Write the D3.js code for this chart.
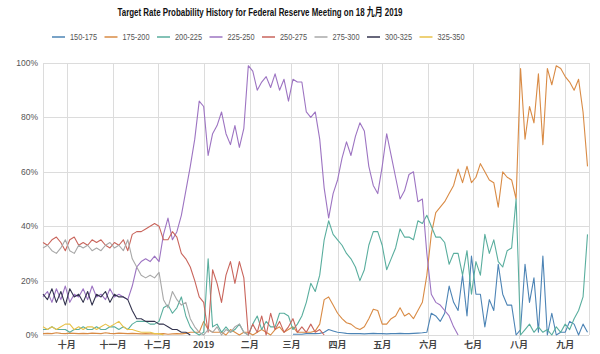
<!DOCTYPE html>
<html>
<head>
<meta charset="utf-8">
<script src="https://cdn.jsdelivr.net/npm/d3@7"></script>
<style>
  body { margin: 0; background: #fff; }
  svg { display: block; font-family: "Liberation Sans", Arial, "Noto Sans CJK SC", sans-serif; }
</style>
</head>
<body>
<div class="Chart"></div>
<script>
// sampled every 3 days from 2018-09-15
const startDate = new Date(2018, 8, 15);
const dates = d3.range(0, 367, 3).map(d => d3.timeDay.offset(startDate, d));

const seriesNames = ["150-175", "175-200", "200-225", "225-250", "250-275", "275-300", "300-325", "325-350"];
const monthLabels = ["十月", "十一月", "十二月", "2019", "二月", "三月", "四月", "五月", "六月", "七月", "八月", "九月"];
const yTicks = [0, 20, 40, 60, 80, 100];

const N = null;
const r150 = [
  N,N,N,N,N,N,N,N,N,N, N,N,N,N,N,N,N,N,N,N, N,N,N,N,N,N,N,N,N,N,
  N,N,N,N,N,N,N,N,N,N, N,N,N,N,N,N,N,N,N,N, N,N,N,N,N,N,0.3,0.3,0.3,0.5,
  0.5,0.5,0.6,1,2,1.5,1,0.8,0.6,0.5, 0.5,0.5,0.4,0.5,0.6,0.5,0.5,0.4,0.5,0.5,
  0.6,0.5,0.5,0.6,0.7,0.8,1,8,7,5, 8,18,12,9,22,7,29,15,15,3,
  13,9,26,15,11,11,0,2,26,12, 21,1,29,0,8,0,1,1,5,4, 0,4,1
];
const r175 = [
  0.5,0.6,0.5,0.8,0.6,0.5,0.7,0.6,0.5,0.6, 0.5,0.7,0.6,0.5,0.8,0.6,0.5,0.7,0.6,0.5,
  0.6,0.5,0.4,0.5,0.4,0.5,0.4,0.5,0.3,0.4, 0.5,0.4,0.6,1,1,1,5,2,1,1,
  1,0,2,1,0,1,1,0,1,2, 1,0,2,3,1,2,3,1,1,1,
  1,1.5,4,13,14,11,8,6,4.5,4, 2.7,2,3,6,9.5,9,4,4,6,7,
  10,7,8,6,9,12,22,37,45,47, 49,52,55,61,56,62,56,58,63,60,
  57,56,47,60,58,57,50,98,72,84, 78,96,70,98,92,99,98,95,93,90, 94,82,62
];
const r200 = [
  2,2,3,2,2,2,1,2,2,3, 2,2,3,2,2,3,3,2,3,2,
  4,5,5,5,4,4,5,10,11,8, 10,14,7,3,1,0,1,28,3,4,
  1,3,1,2,4,1,0,4,7,2, 5,3,3,8,8,7,2,4,7,12,
  19,16,22,35,42,37,35,33,30,28, 25,20,24,33,38,38,33,24,28,32,
  39,36,36,35,42,41,44,40,36,36, 34,26,30,30,22,31,15,27,22,37,
  30,35,27,25,31,32,50,0,2,4, 1,3,1,2,0,3,1,4,2,6, 9,14,37
];
const r225 = [
  14,16,12,17,13,18,12,15,14,17, 13,18,14,15,13,17,14,15,14,13,
  18,25,27,28,27,29,27,37,43,35, 38,44,53,62,72,86,84,66,74,77,
  82,74,70,77,69,76,99,97,90,93, 95,91,96,90,94,86,94,93,93,82,
  80,82,72,54,43,52,57,65,71,66, 73,78,75,62,55,52,62,74,66,58,
  50,53,59,60,49,50,30,15,12,11, 9,7,3,0,N,N,N,N,N,N,
  N,N,N,N,N,N,N,N,N,N, N,N,N,N,N,N,N,N,N,N, N,N,N
];
const r250 = [
  34,33,35,36,34,31,35,36,33,34, 33,35,34,35,33,32,34,33,35,31,
  37,38,38,39,40,41,40,35,35,38, 36,30,28,25,20,14,12,1,24,19,
  12,22,27,19,27,21,0,4,1,7, 0,8,2,5,1,3,6,1,3,1,
  4,1,2,0,N,N,N,N,N,N, N,N,N,N,N,N,N,N,N,N,
  N,N,N,N,N,N,N,N,N,N, N,N,N,N,N,N,N,N,N,N,
  N,N,N,N,N,N,N,N,N,N, N,N,N,N,N,N,N,N,N,N, N,N,N
];
const r275 = [
  32,33,31,30,32,35,31,30,33,32, 33,31,32,31,33,34,32,33,31,35,
  28,25,22,21,22,21,23,13,10,16, 13,11,12,6,3,1,0,2,1,3,
  0,2,1,3,4,1,0
];
const r300 = [
  15,13,17,12,16,11,17,14,15,12, 16,11,15,14,16,12,15,14,14,13,
  9,6,6,5,5,5,4,4,3,2, 2,1,1,0
];
const r325 = [
  3,2,3,2,3,4,4,2,3,2, 3,3,2,3,4,3,4,5,3,2,
  2,1.5,1,1,1,0.5,0.5,0
];

const seriesValues = [r150, r175, r200, r225, r250, r275, r300, r325];
const colors = ["#4d84b5", "#d98b45", "#5aae9e", "#9d74c2", "#c9655c", "#a8a8a8", "#34344f", "#e8c24a"];

const width = 600, height = 354;
const margin = { top: 63, right: 11, bottom: 19, left: 43 };

const svg = d3.select(".Chart").append("svg")
  .attr("width", width)
  .attr("height", height);

svg.append("rect").attr("width", width).attr("height", height).attr("fill", "#fff");

const x = d3.scaleTime()
  .domain([new Date(2018, 8, 15), new Date(2019, 8, 17)])
  .range([margin.left, width - margin.right]);

const y = d3.scaleLinear()
  .domain([0, 100])
  .range([height - margin.bottom, margin.top]);

const monthTicks = d3.timeMonth.range(new Date(2018, 9, 1), new Date(2019, 8, 2));

// grid
const grid = svg.append("g").attr("stroke", "#dcdcdc").attr("stroke-width", 1);
grid.selectAll(".hg").data(yTicks).join("line")
  .attr("x1", margin.left).attr("x2", width - margin.right)
  .attr("y1", d => Math.round(y(d)) + 0.5).attr("y2", d => Math.round(y(d)) + 0.5);
grid.selectAll(".vg").data(monthTicks).join("line")
  .attr("x1", d => Math.round(x(d)) + 0.5).attr("x2", d => Math.round(x(d)) + 0.5)
  .attr("y1", margin.top).attr("y2", height - margin.bottom + 4);
grid.append("line")
  .attr("x1", margin.left + 0.5).attr("x2", margin.left + 0.5)
  .attr("y1", margin.top).attr("y2", height - margin.bottom);
grid.append("line")
  .attr("x1", width - margin.right + 0.5).attr("x2", width - margin.right + 0.5)
  .attr("y1", margin.top).attr("y2", height - margin.bottom);

// y axis labels
svg.append("g").selectAll("text").data(yTicks).join("text")
  .attr("x", 38)
  .attr("y", d => y(d) + 3)
  .attr("text-anchor", "end")
  .attr("font-size", "8.5px")
  .attr("fill", "#555")
  .text(d => d + "%");

// x axis labels
svg.append("g").selectAll("text").data(monthTicks).join("text")
  .attr("x", d => x(d))
  .attr("y", 348)
  .attr("text-anchor", "middle")
  .attr("font-size", "9px")
  .attr("font-weight", "bold")
  .attr("font-family", "'Noto Sans CJK SC', 'Liberation Sans', sans-serif")
  .attr("fill", "#444")
  .text((d, i) => monthLabels[i]);

// lines
const line = d3.line()
  .defined(d => d[1] != null)
  .x(d => x(d[0]))
  .y(d => y(d[1]));

svg.append("g").selectAll("path").data(seriesValues).join("path")
  .attr("fill", "none")
  .attr("stroke", (d, i) => colors[i])
  .attr("stroke-width", 1.1)
  .attr("stroke-linejoin", "round")
  .attr("d", vals => line(vals.map((v, i) => [dates[i], v])));

// title
svg.append("text")
  .attr("x", 260)
  .attr("y", 16)
  .attr("text-anchor", "middle")
  .attr("font-size", "11px")
  .attr("font-weight", "bold")
  .attr("font-family", "'Liberation Sans', 'Noto Sans CJK SC', sans-serif")
  .attr("fill", "#111")
  .attr("textLength", 285)
  .attr("lengthAdjust", "spacingAndGlyphs")
  .text("Target Rate Probability History for Federal Reserve Meeting on 18 九月 2019");

// legend
const legend = svg.append("g").selectAll("g").data(seriesNames).join("g")
  .attr("transform", (d, i) => `translate(${52 + i * 52.5},37)`);
legend.append("line")
  .attr("x1", 0).attr("x2", 13)
  .attr("stroke", (d, i) => colors[i])
  .attr("stroke-width", 1.5);
legend.append("text")
  .attr("x", 18)
  .attr("y", 3)
  .attr("font-size", "9px")
  .attr("fill", "#555")
  .attr("textLength", 27)
  .attr("lengthAdjust", "spacingAndGlyphs")
  .text(d => d);
</script>
</body>
</html>
